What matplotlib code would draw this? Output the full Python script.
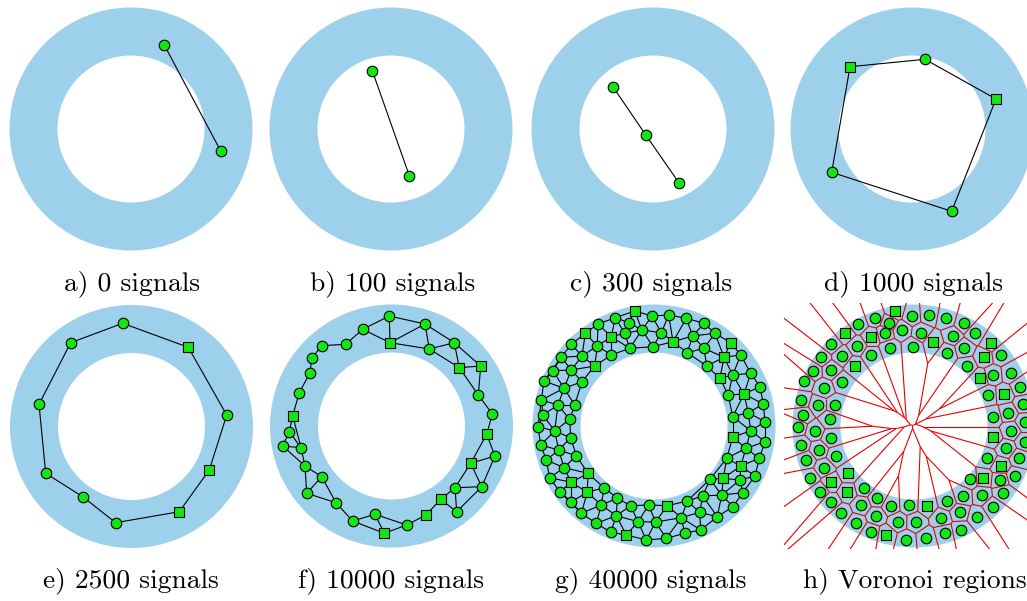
import numpy as np
import matplotlib.pyplot as plt
import matplotlib.tri as mtri
from matplotlib.patches import Wedge
from matplotlib.collections import LineCollection

# ring geometry (pixel units, y grows downward)
R_OUT, R_IN = 121.5, 73.5
RING_BLUE = "#9dd0eb"
NODE_GREEN = "#14e614"

labels = [
    "a) 0 signals", "b) 100 signals", "c) 300 signals", "d) 1000 signals",
    "e) 2500 signals", "f) 10000 signals", "g) 40000 signals", "h) Voronoi regions",
]

# node positions relative to the ring centre
nodes_a = [(33.3, -84.0), (89.7, 22.0)]
edges_a = [(0, 1)]

nodes_b = [(-18.7, -58.3), (18.3, 46.7)]
edges_b = [(0, 1)]

nodes_c = [(-39.7, -41.7), (-7.0, 6.3), (26.3, 54.3)]
edges_c = [(0, 1), (1, 2)]

nodes_d = [(-62.0, -62.3), (13.0, -69.7), (84.0, -30.0), (39.7, 82.3), (-80.3, 43.3)]
edges_d = [(0, 1), (1, 2), (2, 3), (3, 4), (4, 0)]
squares_d = [0, 2]

nodes_e = [(-8.8, -103.2), (56.8, -79.2), (95.2, -11.5), (77.8, 43.5), (47.8, 85.2),
           (-15.8, 96.2), (-48.8, 70.2), (-85.8, 46.8), (-92.5, -22.2), (-60.8, -83.8)]
edges_e = [(i, (i + 1) % 10) for i in range(10)]
squares_e = [1, 3, 4]

nodes_f = [(-2.2, -110.0), (-28.8, -96.7), (33.5, -102.0), (-1.5, -83.3), (37.8, -77.0),
           (62.8, -83.3), (-45.8, -81.7), (-69.8, -80.3), (-79.8, -67.7), (-81.5, -53.3),
           (67.8, -58.3), (89.2, -60.0), (-92.2, -33.3), (86.8, -31.0), (-98.8, -10.3),
           (100.8, -12.0), (-102.2, 5.7), (95.2, 8.3), (-108.8, 20.0), (-90.5, 21.7),
           (103.5, 30.0), (79.2, 37.3), (-86.5, 40.0), (-69.8, 50.7), (63.5, 61.7),
           (90.2, 60.7), (-84.8, 67.3), (49.2, 73.3), (-55.5, 76.7), (65.2, 85.7),
           (34.5, 89.0), (-16.5, 88.3), (-38.8, 95.0), (15.2, 99.0), (-7.2, 107.3)]
edges_f = [(1, 0), (0, 2), (1, 3), (0, 3), (3, 2), (3, 4), (2, 4), (2, 5), (4, 5),
           (5, 10), (5, 11), (10, 11), (4, 10), (10, 13), (11, 13), (13, 15), (15, 17),
           (17, 21), (17, 20), (20, 21), (21, 24), (21, 25), (20, 25), (24, 25), (24, 27),
           (27, 29), (25, 29), (24, 29), (27, 30), (30, 33), (33, 34), (33, 31), (31, 34),
           (31, 32), (32, 34), (32, 28), (28, 23), (28, 26), (23, 26), (22, 23), (22, 26),
           (22, 19), (19, 18), (19, 16), (18, 16), (18, 22), (16, 14), (14, 19), (14, 12),
           (12, 9), (9, 8), (8, 7), (7, 6), (6, 1)]
squares_f = [3, 10, 11, 14, 17, 21, 27, 30, 34]

# final network, shared by panels g and h
nodes_g = [
    (-19.3, -115.0), (-2.0, -110.0), (-38.7, -108.3), (-56.0, -102.0), (-25.3, -103.3),
    (-12.0, -96.0), (-29.3, -92.7), (-68.7, -92.7), (-42.7, -89.3), (-82.7, -81.7),
    (-56.7, -80.0), (-1.0, -79.3), (-24.3, -77.7), (-42.7, -71.0), (-72.0, -70.0),
    (-92.7, -68.7), (-59.3, -60.0), (-82.7, -56.0), (-101.0, -55.3), (-72.0, -44.3),
    (-90.0, -37.7), (-110.0, -45.0), (-112.7, -26.0), (-96.0, -21.0), (-79.3, -21.0),
    (-111.0, -11.0), (-84.3, -6.7), (-116.0, 0.7),
    (14.7, -111.0), (7.3, -93.3), (32.3, -107.7), (50.0, -102.7), (19.0, -84.3),
    (38.7, -90.0), (61.0, -92.7), (33.3, -73.3), (50.0, -77.7), (76.7, -83.3),
    (70.0, -68.7), (52.7, -60.0), (86.7, -71.0), (96.7, -52.7), (78.7, -51.0),
    (66.0, -47.7), (106.0, -39.3), (74.3, -31.0), (90.0, -32.0), (94.3, -13.3),
    (109.3, -22.0), (78.7, -9.3), (111.0, -4.3), (96.7, 4.7),
    (-99.3, 5.0), (-83.3, 11.7), (-113.3, 19.0), (-95.3, 24.0), (-77.7, 29.7),
    (-107.7, 34.0), (-90.0, 41.7), (-66.0, 47.3), (-104.3, 51.7), (-82.7, 56.3),
    (-50.0, 61.7), (-94.3, 65.7), (-66.7, 66.3), (-82.7, 75.7), (-52.7, 79.0),
    (-36.7, 72.3), (-23.3, 79.7), (-5.3, 79.0), (-72.7, 87.3), (-37.7, 89.7),
    (-16.0, 95.7), (1.5, 96.0), (-57.7, 97.3), (-43.3, 106.3), (-27.7, 109.0),
    (-7.7, 114.0),
    (78.7, 11.3), (111.0, 15.7), (92.0, 22.3), (105.3, 32.3), (72.7, 32.3),
    (86.7, 40.0), (69.3, 52.3), (56.0, 53.3), (86.0, 54.0), (101.0, 50.0),
    (88.7, 66.7), (67.7, 69.0), (48.7, 70.0), (33.3, 75.0), (13.3, 79.7),
    (79.0, 80.7), (45.7, 86.3), (63.3, 90.7), (27.3, 91.7), (30.7, 107.3),
    (46.7, 104.0), (12.3, 112.3),
]
squares_g = [0, 7, 8, 16, 32, 37, 38, 43, 46, 59, 61, 64, 76, 78, 83, 84, 92]

# layout: ring centres and label anchors in pixels
W, H = 1027, 601
centres = [(131, 129), (391, 129), (653, 129), (912, 129),
           (131.5, 426.5), (391.5, 426), (654, 426), (914, 426)]
label_pos = [(132, 290), (393, 290), (651, 290), (914, 290),
             (131, 587), (391, 587), (651, 587), (915, 587)]


def panel_axes(fig, cx, cy, half_w=130, half_h=130):
    ax = fig.add_axes([(cx - half_w) / W, 1 - (cy + half_h) / H,
                       2 * half_w / W, 2 * half_h / H])
    ax.set_xlim(-half_w, half_w)
    ax.set_ylim(half_h, -half_h)
    ax.axis("off")
    ax.add_patch(Wedge((0, 0), R_OUT, 0, 360, width=R_OUT - R_IN,
                       facecolor=RING_BLUE, edgecolor="none", zorder=1))
    return ax


def draw_graph(ax, nodes, edges, squares=()):
    pts = np.array(nodes)
    segs = [[pts[i], pts[j]] for i, j in edges]
    ax.add_collection(LineCollection(segs, colors="black", linewidths=0.8, zorder=2))
    sq = np.zeros(len(pts), dtype=bool)
    sq[list(squares)] = True
    kw = dict(linestyle="none", markerfacecolor=NODE_GREEN, markeredgecolor="black",
              markeredgewidth=0.8, zorder=3)
    ax.plot(pts[~sq, 0], pts[~sq, 1], "o", markersize=7.6, **kw)
    ax.plot(pts[sq, 0], pts[sq, 1], "s", markersize=6.8, **kw)


def ring_delaunay_edges(nodes, max_len=32):
    pts = np.array(nodes)
    tri = mtri.Triangulation(pts[:, 0], pts[:, 1])
    keep = []
    for i, j in tri.edges:
        mid = (pts[i] + pts[j]) / 2
        length = np.hypot(*(pts[i] - pts[j]))
        if length < max_len and R_IN - 4 < np.hypot(*mid) < R_OUT + 4:
            keep.append((i, j))
    return keep


def voronoi_segments(nodes, ray_len=1000):
    pts = np.array(nodes)
    tri = mtri.Triangulation(pts[:, 0], pts[:, 1])
    t = tri.triangles
    a, b, c = pts[t[:, 0]], pts[t[:, 1]], pts[t[:, 2]]
    d = 2 * (a[:, 0] * (b[:, 1] - c[:, 1]) + b[:, 0] * (c[:, 1] - a[:, 1])
             + c[:, 0] * (a[:, 1] - b[:, 1]))
    sa, sb, sc = (a ** 2).sum(1), (b ** 2).sum(1), (c ** 2).sum(1)
    ux = (sa * (b[:, 1] - c[:, 1]) + sb * (c[:, 1] - a[:, 1]) + sc * (a[:, 1] - b[:, 1])) / d
    uy = (sa * (c[:, 0] - b[:, 0]) + sb * (a[:, 0] - c[:, 0]) + sc * (b[:, 0] - a[:, 0])) / d
    cc = np.column_stack([ux, uy])
    segs = []
    for k in range(len(t)):
        for e in range(3):
            nb = tri.neighbors[k, e]
            if nb > k:
                segs.append([cc[k], cc[nb]])
            elif nb == -1:
                p, q, r = pts[t[k, e]], pts[t[k, (e + 1) % 3]], pts[t[k, (e + 2) % 3]]
                n = np.array([-(q[1] - p[1]), q[0] - p[0]])
                if np.dot(n, (p + q) / 2 - r) < 0:
                    n = -n
                n = n / np.hypot(*n)
                segs.append([cc[k], cc[k] + n * ray_len])
    return segs


fig = plt.figure(figsize=(W / 100, H / 100), dpi=100)

panels = [
    (nodes_a, edges_a, []),
    (nodes_b, edges_b, []),
    (nodes_c, edges_c, []),
    (nodes_d, edges_d, squares_d),
    (nodes_e, edges_e, squares_e),
    (nodes_f, edges_f, squares_f),
    (nodes_g, ring_delaunay_edges(nodes_g), squares_g),
]
for (cx, cy), (nodes, edges, squares) in zip(centres[:7], panels):
    ax = panel_axes(fig, cx, cy)
    draw_graph(ax, nodes, edges, squares)

# Voronoi regions of the final network
cx, cy = centres[7]
ax = panel_axes(fig, cx, cy, half_w=130, half_h=123)
ax.add_collection(LineCollection(voronoi_segments(nodes_g), colors="#e60000",
                                 linewidths=0.8, zorder=2))
draw_graph(ax, nodes_g, [], squares_g)

for (x, y), text in zip(label_pos, labels):
    fig.text(x / W, 1 - y / H, text, ha="center", va="baseline",
             fontsize=19.8, family="cmr10")

fig.savefig("out.png", dpi=100)
